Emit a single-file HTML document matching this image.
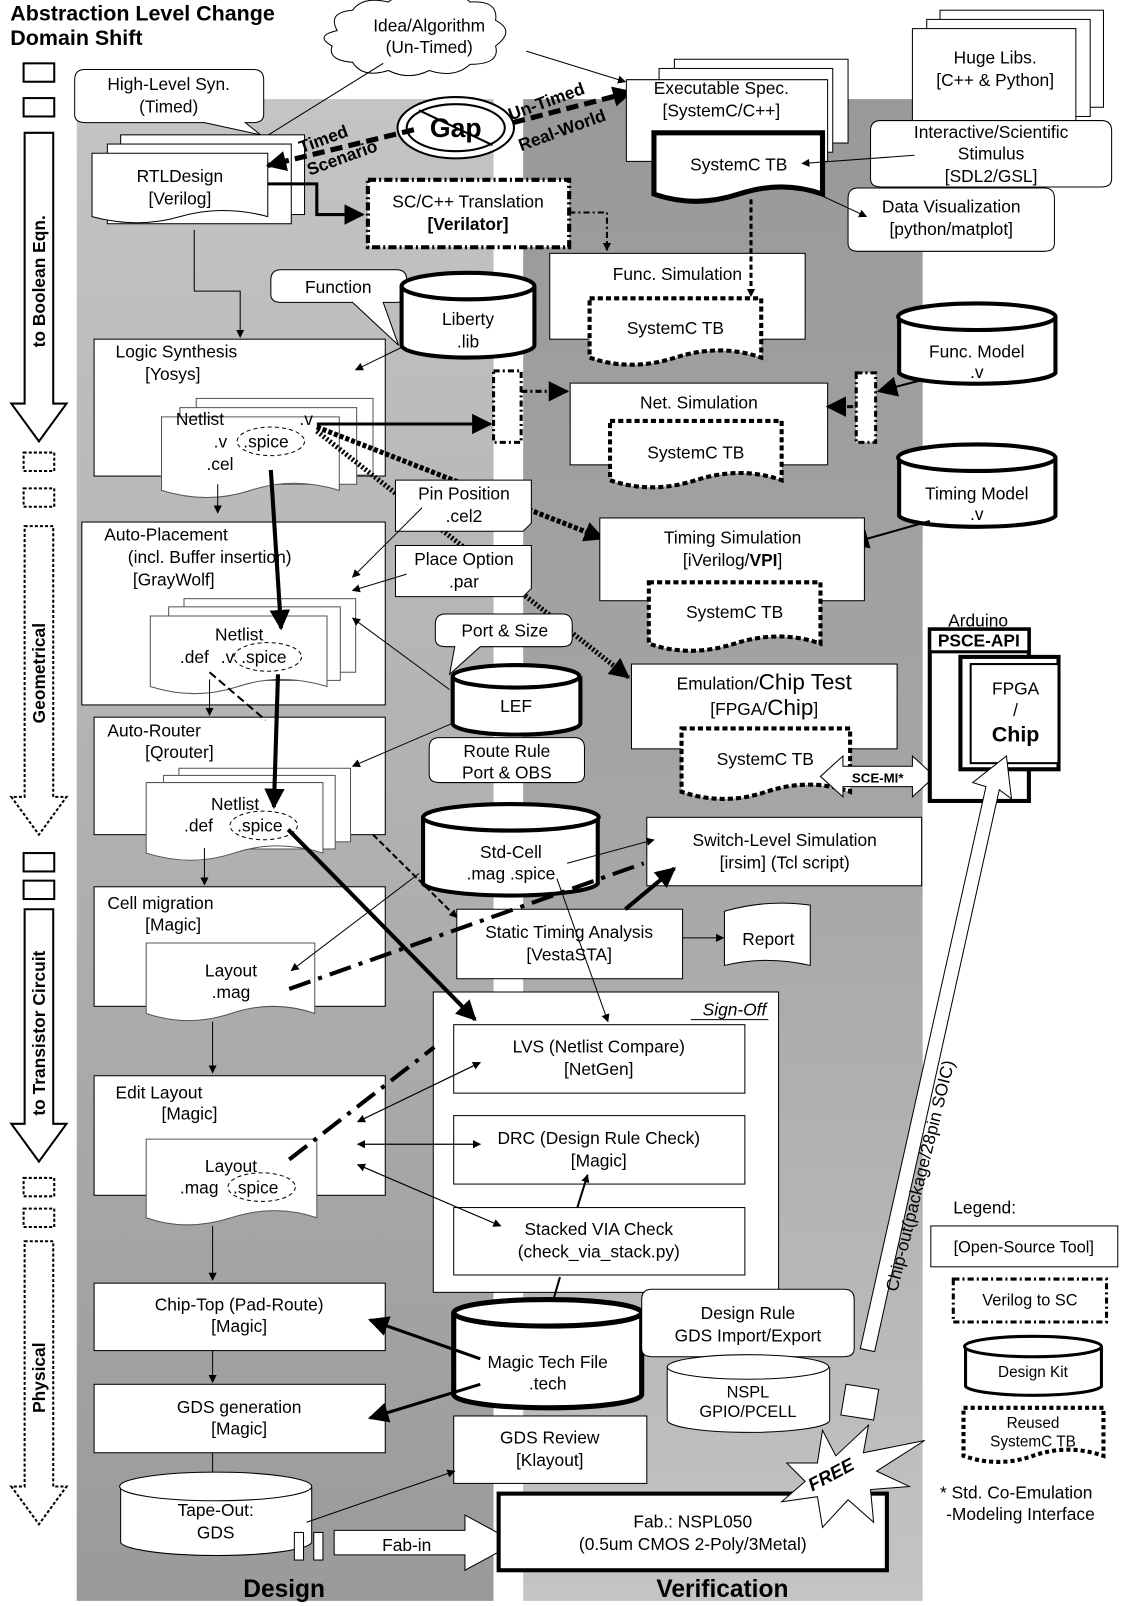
<!DOCTYPE html>
<html><head><meta charset="utf-8"><style>
html,body{margin:0;padding:0;background:#fff}
svg{display:block}
text{font-family:"Liberation Sans",sans-serif;font-size:17px;fill:#000}
.b{font-weight:bold}
</style></head><body>
<svg width="1124" height="1606" viewBox="0 0 1100 1572" xmlns="http://www.w3.org/2000/svg">
<defs>
<linearGradient id="gd" x1="0" y1="0" x2="0" y2="1"><stop offset="0" stop-color="#c4c4c4"/><stop offset="0.5" stop-color="#b0b0b0"/><stop offset="1" stop-color="#9a9a9a"/></linearGradient>
<linearGradient id="gv" x1="0" y1="0" x2="0" y2="1"><stop offset="0" stop-color="#999"/><stop offset="0.5" stop-color="#a6a6a6"/><stop offset="1" stop-color="#c4c4c4"/></linearGradient>
<marker id="a" viewBox="0 0 10 10" refX="9" refY="5" markerWidth="8" markerHeight="8" markerUnits="userSpaceOnUse" orient="auto"><path d="M0,0L10,5L0,10z"/></marker>
<marker id="m" viewBox="0 0 10 10" refX="9" refY="5" markerWidth="20" markerHeight="20" markerUnits="userSpaceOnUse" orient="auto"><path d="M0,0L10,5L0,10z"/></marker>
</defs>
<rect x="75" y="97" width="408" height="1470" fill="url(#gd)"/>
<rect x="512" y="97" width="391" height="1470" fill="url(#gv)"/>

<text x="10" y="20" class="b" style="font-size:21px">Abstraction Level Change</text>
<text x="10" y="44" class="b" style="font-size:21px">Domain Shift</text>

<g fill="#fff" stroke="#000" stroke-width="2">
<rect x="23" y="62" width="30" height="18"/><rect x="23" y="96" width="30" height="18"/>
<path d="M24,130H52V395H65L38,432L11,395H24Z"/>
<rect x="23" y="443" width="30" height="18" stroke-dasharray="3,2"/><rect x="23" y="478" width="30" height="18" stroke-dasharray="3,2"/>
<path d="M24,515H52V780H65L38,817L11,780H24Z" stroke-dasharray="3,2"/>
<rect x="23" y="835" width="30" height="18"/><rect x="23" y="862" width="30" height="18"/>
<path d="M24,890H52V1100H65L38,1137L11,1100H24Z"/>
<rect x="23" y="1153" width="30" height="18" stroke-dasharray="3,2"/><rect x="23" y="1183" width="30" height="18" stroke-dasharray="3,2"/>
<path d="M24,1215H52V1455H65L38,1492L11,1455H24Z" stroke-dasharray="3,2"/>
</g>
<g class="b" style="font-size:17px">
<text transform="translate(44,340) rotate(-90)">to Boolean Eqn.</text>
<text transform="translate(44,708) rotate(-90)">Geometrical</text>
<text transform="translate(44,1092) rotate(-90)">to Transistor Circuit</text>
<text transform="translate(44,1383) rotate(-90)">Physical</text>
</g>

<path d="M330,30 q-10,-18 15,-20 q10,-14 35,-8 q15,-12 40,-4 q25,-10 40,4 q28,-2 25,18 q20,10 0,25 q5,18 -25,18 q-15,14 -40,6 q-20,10 -40,0 q-25,8 -35,-8 q-25,-2 -20,-16 q-18,-10 5,-15z" fill="#fff" stroke="#000"/>
<text x="420" y="31" text-anchor="middle">Idea/Algorithm</text>
<text x="420" y="52" text-anchor="middle">(Un-Timed)</text>
<line x1="375" y1="62" x2="245" y2="143" stroke="#000" marker-end="url(#a)"/>
<line x1="515" y1="50" x2="612" y2="80" stroke="#000" marker-end="url(#a)"/>

<path d="M83,68H248q10,0 10,10V112q0,8-10,8H240L255,132L200,120H83q-10,0-10-8V78q0-10 10-10z" fill="#fff" stroke="#000"/>
<text x="165" y="88" text-anchor="middle">High-Level Syn.</text>
<text x="165" y="110" text-anchor="middle">(Timed)</text>

<g fill="#fff" stroke="#000">
<rect x="118" y="132" width="180" height="78"/><rect x="105" y="141" width="180" height="78"/>
<path d="M90,150H262V212q-45,-12 -86,0t-86,0z"/></g>
<text x="176" y="178" text-anchor="middle">RTLDesign</text>
<text x="176" y="200" text-anchor="middle">[Verilog]</text>

<ellipse cx="446" cy="125" rx="57" ry="30" fill="#fff" stroke="#000" stroke-width="2"/>
<ellipse cx="446" cy="125" rx="48" ry="23" fill="none" stroke="#000" stroke-width="2"/>
<line x1="410" y1="108" x2="482" y2="142" stroke="#000" stroke-width="2"/>
<text x="446" y="134" text-anchor="middle" class="b" style="font-size:26px">Gap</text>
<path d="M405,127L262,162" stroke="#000" stroke-width="5" stroke-dasharray="12,6" marker-end="url(#m)"/>
<path d="M502,120L618,90" stroke="#000" stroke-width="5" stroke-dasharray="12,6" marker-end="url(#m)"/>
<text transform="translate(295,150) rotate(-20)" class="b">Timed</text>
<text transform="translate(303,172) rotate(-20)" class="b">Scenario</text>
<text transform="translate(500,118) rotate(-20)" class="b">Un-Timed</text>
<text transform="translate(510,148) rotate(-20)" class="b">Real-World</text>

<g fill="#fff" stroke="#000">
<rect x="660" y="58" width="170" height="82"/><rect x="645" y="67" width="170" height="82"/>
<path d="M613,78H810V158H613Z"/></g>
<text x="706" y="92" text-anchor="middle">Executable Spec.</text>
<text x="706" y="114" text-anchor="middle">[SystemC/C++]</text>
<path d="M640,130H805V190q-40,-14 -82,0t-83,0z" fill="#fff" stroke="#000" stroke-width="5"/>
<text x="723" y="167" text-anchor="middle">SystemC TB</text>

<g fill="#fff" stroke="#000"><rect x="920" y="10" width="160" height="95"/><rect x="907" y="19" width="160" height="95"/>
<rect x="893" y="28" width="160" height="100"/></g>
<text x="974" y="62" text-anchor="middle">Huge Libs.</text>
<text x="974" y="84" text-anchor="middle">[C++ &amp; Python]</text>
<path d="M862,118H1078q10,0 10,10V175q0,8-10,8H862q-10,0-10-8V128q0-10 10-10z" fill="#fff" stroke="#000"/>
<text x="970" y="135" text-anchor="middle">Interactive/Scientific</text>
<text x="970" y="156" text-anchor="middle">Stimulus</text>
<text x="970" y="178" text-anchor="middle">[SDL2/GSL]</text>
<line x1="895" y1="152" x2="785" y2="160" stroke="#000" marker-end="url(#a)"/>
<path d="M840,184H1022q10,0 10,10V238q0,8-10,8H840q-10,0-10-8V194q0-10 10-10z" fill="#fff" stroke="#000"/>
<text x="931" y="208" text-anchor="middle">Data Visualization</text>
<text x="931" y="230" text-anchor="middle">[python/matplot]</text>
<line x1="790" y1="185" x2="848" y2="212" stroke="#000" marker-end="url(#a)"/>

<path d="M262,180H310V210H355" fill="none" stroke="#000" stroke-width="3" marker-end="url(#m)"/>
<rect x="360" y="176" width="197" height="66" fill="#fff" stroke="#000" stroke-width="4" stroke-dasharray="8,3,2,3"/>
<text x="458" y="203" text-anchor="middle">SC/C++ Translation</text>
<text x="458" y="225" text-anchor="middle" class="b">[Verilator]</text>
<path d="M557,208H594V245" fill="none" stroke="#000" stroke-width="2" stroke-dasharray="6,3,2,3" marker-end="url(#a)"/>

<rect x="538" y="248" width="250" height="84" fill="#fff" stroke="#000"/>
<text x="663" y="274" text-anchor="middle">Func. Simulation</text>
<path d="M735,195V290" stroke="#000" stroke-width="3" stroke-dasharray="5,3" marker-end="url(#a)"/>
<path d="M577,292H745V350q-40,-14 -84,0t-84,0z" fill="#fff" stroke="#000" stroke-width="4" stroke-dasharray="5,3"/>
<text x="661" y="327" text-anchor="middle">SystemC TB</text>

<line x1="190" y1="225" x2="190" y2="285" stroke="#000"/><path d="M190,285H235V330" fill="none" stroke="#000" marker-end="url(#a)"/>
<path d="M275,264H388q10,0 10,10V288q0,8-10,8H375L390,338L345,296H275q-10,0-10-8V274q0-10 10-10z" fill="#fff" stroke="#000"/>
<text x="331" y="287" text-anchor="middle">Function</text>
<path d="M393,280V338A65,12 0 0 0 523,338V280" fill="#fff" stroke="#000" stroke-width="4"/>
<ellipse cx="458" cy="280" rx="65" ry="13" fill="#fff" stroke="#000" stroke-width="4"/>
<text x="458" y="318" text-anchor="middle">Liberty</text>
<text x="458" y="340" text-anchor="middle">.lib</text>

<rect x="92" y="332" width="285" height="134" fill="#fff" stroke="#000"/>
<line x1="393" y1="340" x2="348" y2="362" stroke="#000" marker-end="url(#a)"/>
<text x="113" y="350">Logic Synthesis</text>
<text x="142" y="372">[Yosys]</text>
<g fill="#fff" stroke="#555"><rect x="192" y="390" width="173" height="75"/><rect x="176" y="399" width="173" height="75"/></g>
<path d="M158,408H332V480q-45,-14 -87,0t-87,0z" fill="#fff" stroke="#555"/>
<text x="172" y="416">Netlist</text><text x="293" y="416">.v</text>
<text x="209" y="438">.v</text><text x="202" y="460">.cel</text>
<ellipse cx="265" cy="432" rx="33" ry="14" fill="none" stroke="#000" stroke-dasharray="4,3"/>
<text x="238" y="438">.spice</text>
<line x1="213" y1="474" x2="213" y2="502" stroke="#000" marker-end="url(#a)"/>

<rect x="483" y="363" width="27" height="70" fill="#fff" stroke="#000" stroke-width="3" stroke-dasharray="6,3,2,3"/>
<path d="M310,415H480" stroke="#000" stroke-width="3" marker-end="url(#m)"/>
<path d="M510,383H555" stroke="#000" stroke-width="3" stroke-dasharray="6,3,2,3" marker-end="url(#m)"/>
<rect x="558" y="375" width="252" height="80" fill="#fff" stroke="#000"/>
<text x="684" y="400" text-anchor="middle">Net. Simulation</text>
<path d="M597,412H765V470q-40,-14 -84,0t-84,0z" fill="#fff" stroke="#000" stroke-width="4" stroke-dasharray="5,3"/>
<text x="681" y="449" text-anchor="middle">SystemC TB</text>
<path d="M835,398H810" stroke="#000" stroke-width="3" stroke-dasharray="6,3,2,3" marker-end="url(#m)"/>
<rect x="838" y="365" width="19" height="68" fill="#fff" stroke="#000" stroke-width="3" stroke-dasharray="6,3,2,3"/>
<path d="M910,370L860,383" stroke="#000" stroke-width="2" marker-end="url(#m)"/>
<path d="M880,310V365A77,12 0 0 0 1033,365V310" fill="#fff" stroke="#000" stroke-width="4"/>
<ellipse cx="956" cy="310" rx="77" ry="13" fill="#fff" stroke="#000" stroke-width="4"/>
<text x="956" y="350" text-anchor="middle">Func. Model</text><text x="956" y="370" text-anchor="middle">.v</text>
<path d="M880,448V505A77,12 0 0 0 1033,505V448" fill="#fff" stroke="#000" stroke-width="4"/>
<ellipse cx="956" cy="448" rx="77" ry="13" fill="#fff" stroke="#000" stroke-width="4"/>
<text x="956" y="489" text-anchor="middle">Timing Model</text><text x="956" y="509" text-anchor="middle">.v</text>
<path d="M910,510L832,532" stroke="#000" stroke-width="2" marker-end="url(#m)"/>

<path d="M310,418L590,527" stroke="#000" stroke-width="5" stroke-dasharray="4,2" marker-end="url(#m)"/>
<path d="M310,422L615,663" stroke="#000" stroke-width="5" stroke-dasharray="2,2" marker-end="url(#m)"/>

<path d="M387,470H520V512L512,520H387Z" fill="#fff" stroke="#000"/>
<text x="454" y="489" text-anchor="middle">Pin Position</text><text x="454" y="511" text-anchor="middle">.cel2</text>
<path d="M387,534H520V576L512,584H387Z" fill="#fff" stroke="#000"/>
<text x="454" y="553" text-anchor="middle">Place Option</text><text x="454" y="575" text-anchor="middle">.par</text>

<rect x="587" y="507" width="259" height="81" fill="#fff" stroke="#000"/>
<text x="717" y="532" text-anchor="middle">Timing Simulation</text>
<text x="717" y="554" text-anchor="middle">[iVerilog/<tspan class="b">VPI</tspan>]</text>
<path d="M635,570H803V630q-40,-14 -84,0t-84,0z" fill="#fff" stroke="#000" stroke-width="4" stroke-dasharray="5,3"/>
<text x="719" y="605" text-anchor="middle">SystemC TB</text>

<rect x="80" y="511" width="297" height="179" fill="#fff" stroke="#000"/>
<line x1="413" y1="497" x2="345" y2="565" stroke="#000" marker-end="url(#a)"/>
<line x1="398" y1="562" x2="345" y2="578" stroke="#000" marker-end="url(#a)"/>
<text x="102" y="529">Auto-Placement</text>
<text x="125" y="551">(incl. Buffer insertion)</text>
<text x="130" y="573">[GrayWolf]</text>
<g fill="#fff" stroke="#555"><rect x="180" y="586" width="168" height="72"/><rect x="165" y="594" width="168" height="72"/></g>
<path d="M147,603H320V672q-45,-14 -87,0t-86,0z" fill="#fff" stroke="#555"/>
<text x="234" y="627" text-anchor="middle">Netlist</text>
<text x="176" y="649">.def</text><text x="216" y="649">.v</text>
<ellipse cx="262" cy="643" rx="33" ry="14" fill="none" stroke="#000" stroke-dasharray="4,3"/>
<text x="236" y="649">.spice</text>
<path d="M265,460L275,615" stroke="#000" stroke-width="4" marker-end="url(#m)"/>
<line x1="440" y1="675" x2="345" y2="605" stroke="#000" marker-end="url(#a)"/>
<line x1="205" y1="665" x2="205" y2="700" stroke="#000" marker-end="url(#a)"/>

<path d="M436,601H550q10,0 10,10V625q0,8-10,8H470L440,660L445,633H436q-10,0-10-8V611q0-10 10-10z" fill="#fff" stroke="#000"/>
<text x="494" y="623" text-anchor="middle">Port &amp; Size</text>
<path d="M443,662V708A62,11 0 0 0 568,708V662" fill="#fff" stroke="#000" stroke-width="4"/>
<ellipse cx="505" cy="662" rx="62" ry="11" fill="#fff" stroke="#000" stroke-width="4"/>
<text x="505" y="697" text-anchor="middle">LEF</text>
<path d="M430,722H562q10,0 10,10V758q0,8-10,8H430q-10,0-10-8V732q0-10 10-10z" fill="#fff" stroke="#000"/>
<text x="496" y="741" text-anchor="middle">Route Rule</text><text x="496" y="762" text-anchor="middle">Port &amp; OBS</text>

<rect x="618" y="650" width="260" height="83" fill="#fff" stroke="#000"/>
<text x="748" y="675" text-anchor="middle">Emulation/<tspan style="font-size:22px">Chip Test</tspan></text>
<text x="748" y="700" text-anchor="middle">[FPGA/<tspan style="font-size:22px">Chip</tspan>]</text>
<path d="M667,713H832V775q-40,-14 -82,0t-83,0z" fill="#fff" stroke="#000" stroke-width="4" stroke-dasharray="5,3"/>
<text x="749" y="749" text-anchor="middle">SystemC TB</text>
<path d="M803,760L825,740V750H893V740L915,760L893,780V770H825V780Z" fill="#fff" stroke="#000"/>
<text x="859" y="766" text-anchor="middle" class="b" style="font-size:13px">SCE-MI*</text>
<text x="928" y="613">Arduino</text>
<rect x="910" y="616" width="97" height="168" fill="#fff" stroke="#000" stroke-width="4"/>
<rect x="910" y="616" width="97" height="22" fill="#fff" stroke="#000" stroke-width="3"/>
<text x="958" y="633" text-anchor="middle" class="b">PSCE-API</text>
<rect x="940" y="643" width="96" height="110" fill="#fff" stroke="#000" stroke-width="4"/>
<rect x="950" y="650" width="86" height="97" fill="#fff" stroke="#000" stroke-width="2"/>
<text x="994" y="680" text-anchor="middle">FPGA</text><text x="994" y="701" text-anchor="middle">/</text>
<text x="994" y="726" text-anchor="middle" class="b" style="font-size:21px">Chip</text>

<rect x="92" y="702" width="285" height="115" fill="#fff" stroke="#000"/>
<line x1="445" y1="707" x2="345" y2="750" stroke="#000" marker-end="url(#a)"/>
<text x="105" y="721">Auto-Router</text><text x="142" y="742">[Qrouter]</text>
<g fill="#fff" stroke="#555"><rect x="175" y="752" width="168" height="72"/><rect x="160" y="759" width="168" height="72"/></g>
<path d="M143,766H316V835q-45,-14 -87,0t-86,0z" fill="#fff" stroke="#555"/>
<text x="230" y="793" text-anchor="middle">Netlist</text>
<text x="180" y="814">.def</text>
<ellipse cx="258" cy="808" rx="33" ry="14" fill="none" stroke="#000" stroke-dasharray="4,3"/>
<text x="232" y="814">.spice</text>
<path d="M272,660L268,790" stroke="#000" stroke-width="4" marker-end="url(#m)"/>
<path d="M205,658L260,705" stroke="#000" stroke-width="2" stroke-dasharray="8,4"/>
<line x1="200" y1="830" x2="200" y2="866" stroke="#000" marker-end="url(#a)"/>

<path d="M414,800V865A86,13 0 0 0 585,865V800" fill="#fff" stroke="#000" stroke-width="4"/>
<ellipse cx="500" cy="800" rx="86" ry="13" fill="#fff" stroke="#000" stroke-width="4"/>
<text x="500" y="840" text-anchor="middle">Std-Cell</text>
<text x="500" y="861" text-anchor="middle">.mag  .spice</text>
<rect x="633" y="800" width="269" height="67" fill="#fff" stroke="#000"/>
<text x="768" y="828" text-anchor="middle">Switch-Level Simulation</text>
<text x="768" y="850" text-anchor="middle">[irsim] (Tcl script)</text>
<line x1="555" y1="845" x2="640" y2="822" stroke="#000" marker-end="url(#a)"/>

<rect x="92" y="868" width="285" height="117" fill="#fff" stroke="#000"/>
<text x="105" y="890">Cell migration</text><text x="142" y="911">[Magic]</text>
<path d="M143,923H308V992q-40,-14 -82,0t-83,0z" fill="#fff" stroke="#555"/>
<text x="226" y="956" text-anchor="middle">Layout</text><text x="226" y="977" text-anchor="middle">.mag</text>

<rect x="447" y="890" width="221" height="68" fill="#fff" stroke="#000"/>
<text x="557" y="918" text-anchor="middle">Static Timing Analysis</text>
<text x="557" y="940" text-anchor="middle">[VestaSTA]</text>
<line x1="668" y1="918" x2="708" y2="918" stroke="#000" marker-end="url(#a)"/>
<path d="M709,892Q750,880 793,886V945Q750,935 709,945Z" fill="#fff" stroke="#000"/>
<text x="752" y="925" text-anchor="middle">Report</text>

<rect x="424" y="971" width="338" height="294" fill="#fff" stroke="#000"/>
<text x="750" y="994" text-anchor="end" style="font-style:italic">Sign-Off</text>
<line x1="676" y1="998" x2="752" y2="998" stroke="#000"/>
<rect x="444" y="1003" width="285" height="67" fill="#fff" stroke="#000"/>
<text x="586" y="1030" text-anchor="middle">LVS (Netlist Compare)</text><text x="586" y="1052" text-anchor="middle">[NetGen]</text>
<rect x="444" y="1092" width="285" height="67" fill="#fff" stroke="#000"/>
<text x="586" y="1120" text-anchor="middle">DRC (Design Rule Check)</text><text x="586" y="1142" text-anchor="middle">[Magic]</text>
<rect x="444" y="1182" width="285" height="66" fill="#fff" stroke="#000"/>
<text x="586" y="1209" text-anchor="middle">Stacked VIA Check</text><text x="586" y="1231" text-anchor="middle">(check_via_stack.py)</text>

<!-- overlay connectors -->
<path d="M365,817L447,898" stroke="#000" stroke-width="2" stroke-dasharray="6,3" marker-end="url(#a)"/>
<path d="M282,812L465,998" stroke="#000" stroke-width="4" marker-end="url(#m)"/>
<line x1="545" y1="860" x2="595" y2="1000" stroke="#000" marker-end="url(#a)"/>
<line x1="410" y1="855" x2="285" y2="950" stroke="#000" marker-end="url(#a)"/>
<path d="M283,968L630,845" stroke="#000" stroke-width="4" stroke-dasharray="22,8,4,8"/>
<path d="M612,890L660,850" stroke="#000" stroke-width="4" marker-end="url(#m)"/>
<line x1="208" y1="1000" x2="208" y2="1050" stroke="#000" marker-end="url(#a)"/>

<rect x="92" y="1053" width="285" height="117" fill="#fff" stroke="#000"/>
<text x="113" y="1075">Edit Layout</text><text x="158" y="1096">[Magic]</text>
<path d="M143,1115H310V1192q-40,-14 -84,0t-83,0z" fill="#fff" stroke="#555"/>
<text x="226" y="1147" text-anchor="middle">Layout</text>
<text x="176" y="1168">.mag</text>
<ellipse cx="256" cy="1162" rx="33" ry="14" fill="none" stroke="#000" stroke-dasharray="4,3"/>
<text x="228" y="1168">.spice</text>
<path d="M283,1135L425,1025" stroke="#000" stroke-width="4" stroke-dasharray="22,8,4,8"/>
<line x1="470" y1="1040" x2="350" y2="1098" stroke="#000" marker-end="url(#a)"/>
<line x1="350" y1="1098" x2="470" y2="1040" stroke="#000" marker-end="url(#a)"/>
<line x1="470" y1="1120" x2="350" y2="1120" stroke="#000" marker-end="url(#a)"/>
<line x1="350" y1="1120" x2="470" y2="1120" stroke="#000" marker-end="url(#a)"/>
<line x1="490" y1="1200" x2="350" y2="1140" stroke="#000" marker-end="url(#a)"/>
<line x1="350" y1="1140" x2="490" y2="1200" stroke="#000" marker-end="url(#a)"/>
<line x1="565" y1="1182" x2="575" y2="1150" stroke="#000" stroke-width="2" marker-end="url(#a)"/>
<line x1="208" y1="1200" x2="208" y2="1253" stroke="#000" marker-end="url(#a)"/>

<rect x="92" y="1256" width="285" height="66" fill="#fff" stroke="#000"/>
<text x="234" y="1283" text-anchor="middle">Chip-Top (Pad-Route)</text><text x="234" y="1304" text-anchor="middle">[Magic]</text>
<line x1="208" y1="1322" x2="208" y2="1353" stroke="#000" marker-end="url(#a)"/>
<rect x="92" y="1355" width="285" height="67" fill="#fff" stroke="#000"/>
<text x="234" y="1383" text-anchor="middle">GDS generation</text><text x="234" y="1404" text-anchor="middle">[Magic]</text>
<line x1="208" y1="1422" x2="208" y2="1455" stroke="#000" marker-end="url(#a)"/>

<line x1="537" y1="1288" x2="548" y2="1250" stroke="#000" stroke-width="2"/>
<path d="M444,1285V1365A92,13 0 0 0 628,1365V1285" fill="#fff" stroke="#000" stroke-width="5"/>
<ellipse cx="536" cy="1285" rx="92" ry="13" fill="#fff" stroke="#000" stroke-width="5"/>
<text x="536" y="1339" text-anchor="middle">Magic Tech File</text>
<text x="536" y="1360" text-anchor="middle">.tech</text>
<path d="M470,1330L362,1292" stroke="#000" stroke-width="3" marker-end="url(#m)"/>
<path d="M470,1355L362,1388" stroke="#000" stroke-width="3" marker-end="url(#m)"/>
<path d="M638,1262H826q10,0 10,10V1320q0,8-10,8H638q-10,0-10-8V1272q0-10 10-10z" fill="#fff" stroke="#000"/>
<text x="732" y="1291" text-anchor="middle">Design Rule</text>
<text x="732" y="1313" text-anchor="middle">GDS Import/Export</text>
<path d="M653,1338V1390A79,12 0 0 0 812,1390V1338" fill="#fff" stroke="#000"/>
<ellipse cx="732" cy="1338" rx="79" ry="12" fill="#fff" stroke="#000"/>
<text x="732" y="1368" text-anchor="middle" style="font-size:16px">NSPL</text>
<text x="732" y="1387" text-anchor="middle" style="font-size:16px">GPIO/PCELL</text>

<rect x="444" y="1386" width="189" height="66" fill="#fff" stroke="#000"/>
<text x="538" y="1413" text-anchor="middle">GDS Review</text><text x="538" y="1435" text-anchor="middle">[Klayout]</text>

<path d="M118,1455V1510A94,14 0 0 0 305,1510V1455" fill="#fff" stroke="#000"/>
<ellipse cx="211" cy="1455" rx="94" ry="14" fill="#fff" stroke="#000"/>
<text x="211" y="1484" text-anchor="middle">Tape-Out:</text><text x="211" y="1506" text-anchor="middle">GDS</text>
<line x1="300" y1="1490" x2="445" y2="1440" stroke="#000" marker-end="url(#a)"/>
<rect x="288" y="1500" width="9" height="27" fill="#fff" stroke="#000"/><rect x="307" y="1500" width="9" height="27" fill="#fff" stroke="#000"/>
<path d="M327,1498H455V1483L505,1510L455,1537V1522H327Z" fill="#fff" stroke="#000"/>
<text x="398" y="1518" text-anchor="middle">Fab-in</text>
<rect x="488" y="1462" width="380" height="75" fill="#fff" stroke="#000" stroke-width="4"/>
<text x="678" y="1495" text-anchor="middle">Fab.: NSPL050</text>
<text x="678" y="1517" text-anchor="middle">(0.5um CMOS 2-Poly/3Metal)</text>

<path d="M805,1400L818,1425L850,1395L845,1422L905,1410L858,1440L890,1455L852,1458L855,1490L830,1468L805,1495L800,1465L765,1470L788,1450L770,1432L800,1432Z" fill="#fff" stroke="#000"/>
<text transform="translate(795,1460) rotate(-28)" class="b" style="font-size:18px;font-style:italic">FREE</text>
<path d="M828,1355L860,1360L855,1390L823,1385Z" fill="#fff" stroke="#000"/>

<path d="M842,1320L965,770L952,766L985,740L990,782L978,773L856,1323Z" fill="#fff" stroke="#000"/>
<text transform="translate(878,1265) rotate(-76)" style="font-size:17px">Chip-out(package/28pin SOIC)</text>

<text x="933" y="1188">Legend:</text>
<rect x="911" y="1200" width="183" height="40" fill="#fff" stroke="#000"/>
<text x="1002" y="1226" text-anchor="middle" style="font-size:16px">[Open-Source Tool]</text>
<rect x="933" y="1252" width="150" height="42" fill="#fff" stroke="#000" stroke-width="3" stroke-dasharray="6,3,2,3"/>
<text x="1008" y="1278" text-anchor="middle" style="font-size:16px">Verilog to SC</text>
<path d="M945,1318V1357A67,10 0 0 0 1078,1357V1318" fill="#fff" stroke="#000" stroke-width="3"/>
<ellipse cx="1011" cy="1318" rx="67" ry="10" fill="#fff" stroke="#000" stroke-width="3"/>
<text x="1011" y="1348" text-anchor="middle" style="font-size:15px">Design Kit</text>
<path d="M943,1378H1080V1425q-35,-12 -69,0t-68,0z" fill="#fff" stroke="#000" stroke-width="4" stroke-dasharray="4,3"/>
<text x="1011" y="1398" text-anchor="middle" style="font-size:15px">Reused</text>
<text x="1011" y="1416" text-anchor="middle" style="font-size:15px">SystemC TB</text>
<text x="920" y="1467">* Std. Co-Emulation</text>
<text x="926" y="1488">-Modeling Interface</text>

<text x="278" y="1563" text-anchor="middle" class="b" style="font-size:24px">Design</text>
<text x="707" y="1563" text-anchor="middle" class="b" style="font-size:24px">Verification</text>
</svg>
</body></html>
